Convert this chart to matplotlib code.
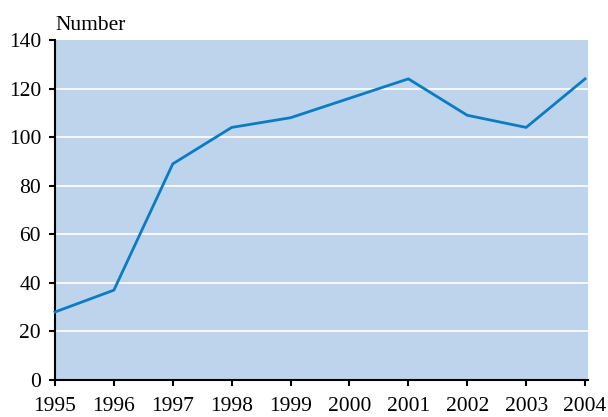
import matplotlib
matplotlib.use("Agg")
from matplotlib import pyplot as plt

years = [1995, 1996, 1997, 1998, 1999, 2000, 2001, 2002, 2003, 2004]
number = [28, 37, 89, 104, 108, 116, 124, 109, 104, 124]
yticks = [0, 20, 40, 60, 80, 100, 120, 140]

plt.rcParams['font.family'] = ['Liberation Serif', 'DejaVu Serif']

fig = plt.figure(figsize=(6.08, 4.17), dpi=100)
ax = fig.add_axes([55/608, 1 - 380/417, 533/608, 340/417])
ax.set_facecolor('#bed3ec')

for y in yticks[1:-1]:
    ax.axhline(y, color='white', lw=1.2, zorder=1)

ax.plot(years, number, color='#0a7dc2', lw=2, zorder=3, clip_on=False)

ax.set_xlim(1995, 2004.05)
ax.set_ylim(0, 140)
ax.set_xticks(years)
ax.set_yticks(yticks)
ax.tick_params(labelsize=15.5, length=4, width=1.5, color='black', pad=6)
ax.tick_params(axis='x', pad=8.5)

for s in ['top', 'right']:
    ax.spines[s].set_visible(False)
for s in ['left', 'bottom']:
    ax.spines[s].set_linewidth(1.5)

ax.text(0.0, 1.015, 'Number', transform=ax.transAxes, fontsize=15.5, ha='left', va='bottom')

fig.savefig('out.png', dpi=100)
